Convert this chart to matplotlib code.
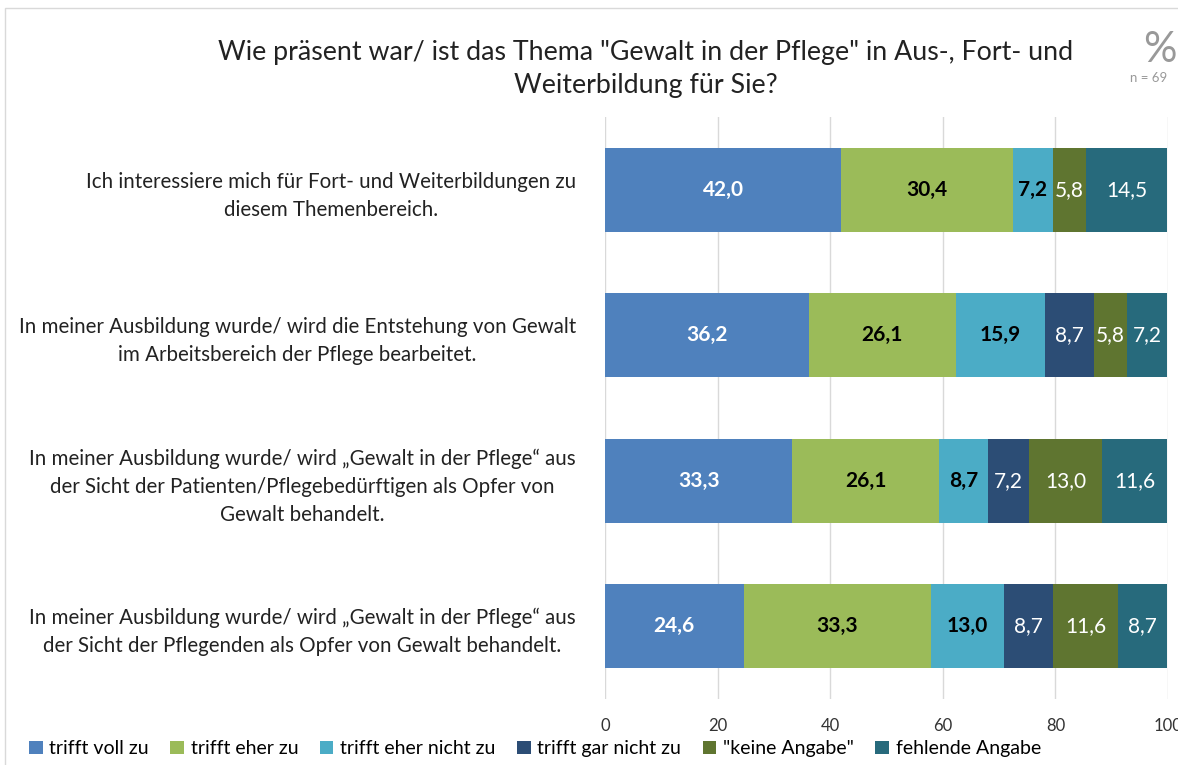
import numpy as np
import matplotlib.pyplot as plt
from matplotlib.patches import Rectangle

plt.rcParams['font.family'] = ['Lato', 'DejaVu Sans']

# === Data ===
categories = [
    "Ich interessiere mich für Fort- und Weiterbildungen zu\ndiesem Themenbereich.",
    "In meiner Ausbildung wurde/ wird die Entstehung von Gewalt\nim Arbeitsbereich der Pflege bearbeitet.",
    "In meiner Ausbildung wurde/ wird „Gewalt in der Pflege“ aus\nder Sicht der Patienten/Pflegebedürftigen als Opfer von\nGewalt behandelt.",
    "In meiner Ausbildung wurde/ wird „Gewalt in der Pflege“ aus\nder Sicht der Pflegenden als Opfer von Gewalt behandelt.",
]
series_names = ["trifft voll zu", "trifft eher zu", "trifft eher nicht zu",
                "trifft gar nicht zu", "\"keine Angabe\"", "fehlende Angabe"]
voll_zu = [42.0, 36.2, 33.3, 24.6]
eher_zu = [30.4, 26.1, 26.1, 33.3]
eher_nicht_zu = [7.2, 15.9, 8.7, 13.0]
gar_nicht_zu = [0.0, 8.7, 7.2, 8.7]
keine_angabe = [5.8, 5.8, 13.0, 11.6]
fehlende_angabe = [14.5, 7.2, 11.6, 8.7]
xticks = [0, 20, 40, 60, 80, 100]

series = [voll_zu, eher_zu, eher_nicht_zu, gar_nicht_zu, keine_angabe, fehlende_angabe]
colors = ['#4F81BD', '#9BBB59', '#4BACC6', '#2C4D75', '#5F7530', '#276A7C']
label_colors = ['white', 'black', 'black', 'white', 'white', 'white']
label_weights = ['bold', 'bold', 'bold', 'normal', 'normal', 'normal']

fig = plt.figure(figsize=(11.78, 7.65), dpi=100)
ax = fig.add_axes([0.5136, 0.0863, 0.4779, 0.7607])

y = np.arange(len(categories))
left = np.zeros(len(categories))
for vals, name, col, lc, lw in zip(series, series_names, colors, label_colors, label_weights):
    vals = np.array(vals)
    ax.barh(y, vals, left=left, height=0.58, color=col, label=name, zorder=2)
    for yi, v, l in zip(y, vals, left):
        if v > 0:
            ax.text(l + v / 2, yi, f"{v:.1f}".replace('.', ','), ha='center', va='center',
                    color=lc, fontweight=lw, fontsize=15, zorder=3)
    left += vals

ax.set_xlim(0, 100)
ax.set_ylim(len(categories) - 0.5, -0.5)
ax.set_xticks(xticks)
ax.set_xticklabels([str(t) for t in xticks], fontsize=12, color='#333333')
ax.set_yticks(y)
ax.set_yticklabels(categories, fontsize=14.8, multialignment='center', color='#222222',
                   linespacing=1.5)
ax.tick_params(length=0, axis='both')
ax.tick_params(axis='y', pad=21)
ax.tick_params(axis='x', pad=14)
ax.grid(axis='x', color='#d9d9d9', linewidth=1, zorder=0)
for s in ax.spines.values():
    s.set_visible(False)

fig.text(0.548, 0.91, "Wie präsent war/ ist das Thema \"Gewalt in der Pflege\" in Aus-, Fort- und\nWeiterbildung für Sie?",
         ha='center', va='center', fontsize=19.3, color='#222222', linespacing=1.4)
fig.text(0.985, 0.935, "%", ha='center', va='center', fontsize=30, color='#999999')
fig.text(0.975, 0.898, "n = 69", ha='center', va='center', fontsize=9.5, color='#999999')

ax.legend(loc='center left', bbox_to_anchor=(-0.5136 / 0.4779 + 0.018 / 0.4779, -0.112 / 0.7607 * 0.58),
          ncol=6, frameon=False, fontsize=14, handlelength=0.7, handleheight=0.7,
          handletextpad=0.35, columnspacing=1.1, borderaxespad=0)

fig.patches.append(Rectangle((0.004, -0.01), 1.2, 1.0, transform=fig.transFigure,
                             fill=False, edgecolor='#d9d9d9', linewidth=1))

fig.savefig('out.png', dpi=100)
